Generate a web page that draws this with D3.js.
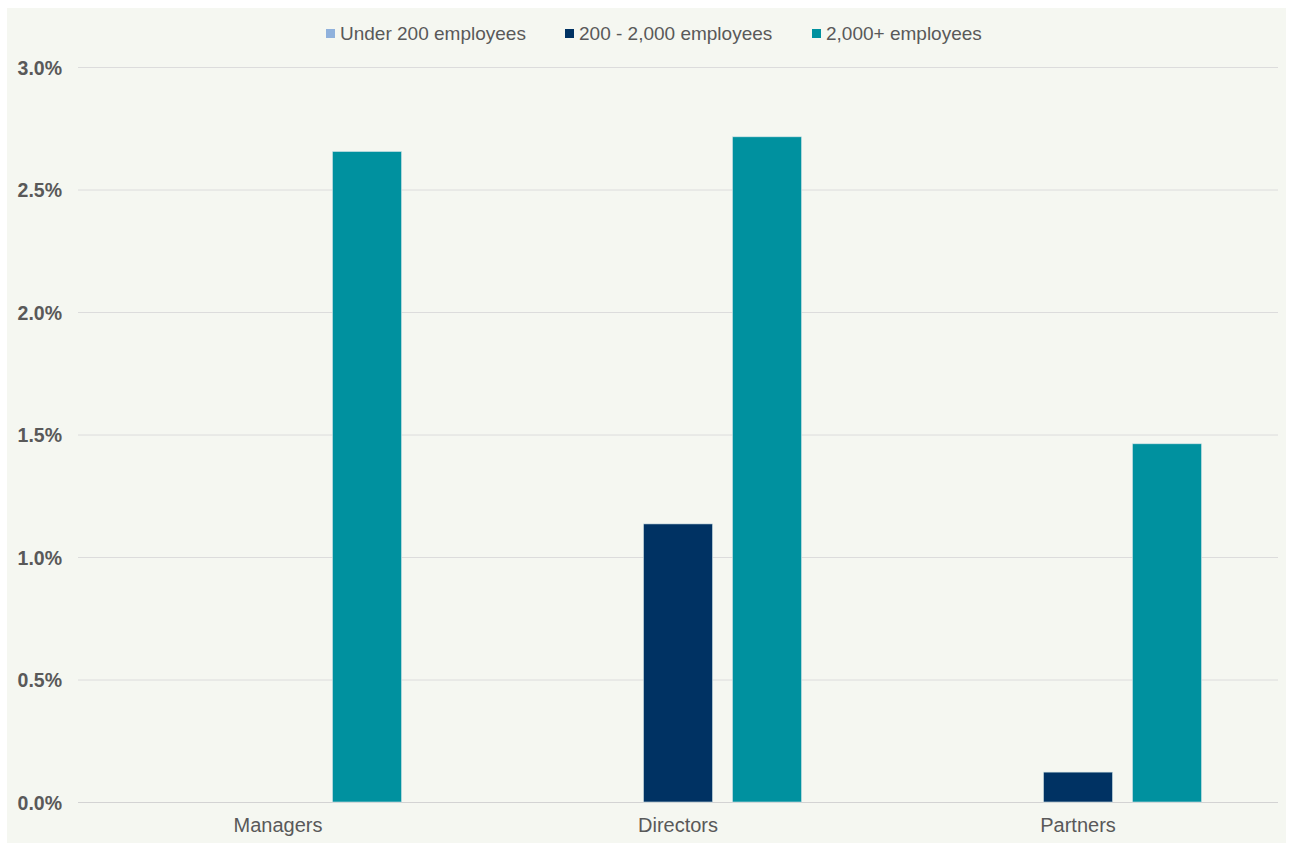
<!DOCTYPE html>
<html><head><meta charset="utf-8">
<script src="https://cdn.jsdelivr.net/npm/d3@7"></script>
<style>
html,body{margin:0;padding:0;background:#fff;}
text{font-family:"Liberation Sans",Arial,sans-serif;}
</style></head>
<body><svg id="chart" width="1293" height="843"></svg>
<script>
const categories = ["Managers", "Directors", "Partners"];
const seriesNames = ["Under 200 employees", "200 - 2,000 employees", "2,000+ employees"];
const under200 = [0, 0, 0];
const mid200to2000 = [0, 1.135, 0.122];
const over2000 = [2.655, 2.715, 1.462];
const yTicks = [0, 0.5, 1.0, 1.5, 2.0, 2.5, 3.0];
const colors = ["#8fb1dc", "#003263", "#00919f"];

const seriesValues = [under200, mid200to2000, over2000];
const svg = d3.select("#chart");
svg.append("rect").attr("x",7).attr("y",8).attr("width",1279).attr("height",835).attr("fill","#f5f7f1");

const m = {left:78, right:1278, top:67, bottom:802};
const x = d3.scaleBand().domain(categories).range([m.left, m.right]).paddingInner(0).paddingOuter(0);
const y = d3.scaleLinear().domain([0, 3]).range([m.bottom, m.top]);
const barW = 69, gap = 20;
const groupW = 3*barW + 2*gap;
const xs = d3.scaleBand().domain(d3.range(3)).range([0, groupW]).paddingInner(gap/(barW+gap)).paddingOuter(0);

// gridlines
const yAxis = d3.axisLeft(y).tickValues(yTicks).tickSize(-(m.right-m.left)).tickFormat(d => d.toFixed(1) + "%");
const ga = svg.append("g").attr("transform", `translate(${m.left},0)`).call(yAxis);
ga.select(".domain").remove();
ga.selectAll(".tick line").attr("stroke", d => d === 0 ? "#d3d3d3" : "#dcdcdc").attr("stroke-width", 1);
ga.selectAll(".tick text").attr("x", -16).attr("fill", "#595959").attr("font-weight", "bold").attr("font-size", "19.5px").attr("dy", "0.36em");

// bars
categories.forEach((c, ci) => {
  const gx = x(c) + (x.bandwidth() - groupW)/2;
  seriesValues.forEach((vals, si) => {
    const v = vals[ci];
    if (!v) return;
    svg.append("rect")
      .attr("x", gx + xs(si)).attr("width", xs.bandwidth())
      .attr("y", y(v)).attr("height", y(0) - y(v))
      .attr("fill", colors[si]).attr("stroke", "#cfe3e6").attr("stroke-width", 0.6);
  });
});

// x axis labels
const xAxis = d3.axisBottom(x).tickSize(0).tickPadding(16);
const gx = svg.append("g").attr("transform", `translate(0,${m.bottom})`).call(xAxis);
gx.select(".domain").remove();
gx.selectAll(".tick text").attr("fill", "#595959").attr("font-size", "20px");

// legend
const legendX = [326, 565, 812];
const lg = svg.append("g");
seriesNames.forEach((n, i) => {
  lg.append("rect").attr("x", legendX[i]).attr("y", 29).attr("width", 9).attr("height", 9).attr("fill", colors[i]);
  lg.append("text").attr("x", legendX[i] + 14).attr("y", 33).attr("dy", "0.36em")
    .attr("fill", "#595959").attr("font-size", "19px").text(n);
});
</script></body></html>
